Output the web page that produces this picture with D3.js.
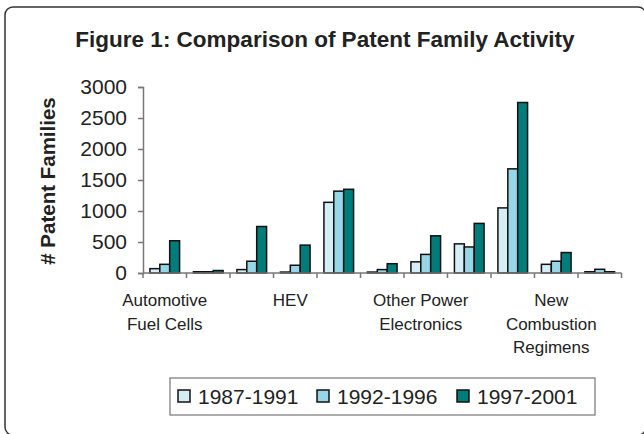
<!DOCTYPE html>
<html>
<head>
<meta charset="utf-8">
<script src="https://cdn.jsdelivr.net/npm/d3@7"></script>
<style>
  body { margin: 0; background: #fff; }
  text { font-family: "Liberation Sans", Arial, sans-serif; fill: #222; }
</style>
</head>
<body>
<script>
const width = 644, height = 434;

// 11 category groups, only every third one is labelled on the axis
const categories = ["c0", "c1", "c2", "c3", "c4", "c5", "c6", "c7", "c8", "c9", "c10"];
const tickLabels = [
  ["Automotive", "Fuel Cells"], [], [],
  ["HEV"], [], [],
  ["Other Power", "Electronics"], [], [],
  ["New", "Combustion", "Regimens"], []
];
const series = ["1987-1991", "1992-1996", "1997-2001"];
const values1987 = [70, 20, 55, 15, 1140, 15, 180, 470, 1050, 140, 20];
const values1992 = [140, 20, 190, 125, 1320, 55, 300, 420, 1680, 190, 60];
const values1997 = [520, 40, 750, 450, 1350, 150, 600, 800, 2750, 330, 20];
const yTicks = [0, 500, 1000, 1500, 2000, 2500, 3000];
const colors = ["#d5eef5", "#97d6e6", "#007d7b"];

const valuesBySeries = [values1987, values1992, values1997];

const svg = d3.select("body").append("svg")
  .attr("width", width)
  .attr("height", height);

// outer frame
svg.append("rect")
  .attr("x", 5).attr("y", 7)
  .attr("width", 641).attr("height", 428)
  .attr("rx", 8)
  .attr("fill", "none")
  .attr("stroke", "#333")
  .attr("stroke-width", 1.5);

svg.append("text")
  .attr("x", 325).attr("y", 47)
  .attr("text-anchor", "middle")
  .style("font-size", "22.5px")
  .style("font-weight", "bold")
  .text("Figure 1: Comparison of Patent Family Activity");

const x0 = d3.scaleBand()
  .domain(categories)
  .range([143, 621.5]);

const x1 = d3.scaleBand()
  .domain(series)
  .range([0, x0.bandwidth()])
  .paddingOuter(0.7);

const y = d3.scaleLinear()
  .domain([0, 3000])
  .range([273, 87]);

// y axis
const yAxis = svg.append("g")
  .attr("transform", "translate(143,0)")
  .call(d3.axisLeft(y).tickValues(yTicks).tickFormat(d3.format("d")).tickSize(5).tickPadding(11));
yAxis.select(".domain").attr("stroke", "#777").attr("stroke-width", 1.5);
yAxis.selectAll(".tick line").attr("stroke", "#777").attr("stroke-width", 1.5);
yAxis.selectAll(".tick text")
  .style("font-size", "21px")
  .style("font-family", "'Liberation Sans', Arial, sans-serif")
  .attr("fill", "#222");

svg.append("text")
  .attr("transform", "translate(55,181) rotate(-90)")
  .attr("text-anchor", "middle")
  .style("font-size", "20.5px")
  .style("font-weight", "bold")
  .text("# Patent Families");

// bars
const groups = svg.append("g")
  .selectAll("g")
  .data(categories)
  .join("g")
  .attr("transform", d => `translate(${x0(d)},0)`);

groups.selectAll("rect")
  .data((d, i) => series.map((s, j) => ({ s, j, v: valuesBySeries[j][i] })))
  .join("rect")
  .attr("x", d => x1(d.s))
  .attr("y", d => y(d.v))
  .attr("width", x1.bandwidth())
  .attr("height", d => y(0) - y(d.v))
  .attr("fill", d => colors[d.j])
  .attr("stroke", "#111")
  .attr("stroke-width", 1.5);

// x axis line and boundary ticks
const xAxis = svg.append("g");
xAxis.append("line")
  .attr("x1", x0.range()[0]).attr("x2", x0.range()[1])
  .attr("y1", y(0)).attr("y2", y(0))
  .attr("stroke", "#777").attr("stroke-width", 1.5);

const boundaries = categories.map(c => x0(c)).concat([x0.range()[1]]);
xAxis.selectAll(".bt")
  .data(boundaries)
  .join("line")
  .attr("class", "bt")
  .attr("x1", d => d).attr("x2", d => d)
  .attr("y1", y(0)).attr("y2", y(0) + 5)
  .attr("stroke", "#777").attr("stroke-width", 1.5);

const labels = xAxis.selectAll(".xl")
  .data(categories)
  .join("text")
  .attr("class", "xl")
  .attr("text-anchor", "middle")
  .style("font-size", "17px");

labels.each(function (d, i) {
  const t = d3.select(this);
  tickLabels[i].forEach((line, k) => {
    t.append("tspan")
      .attr("x", x0(d) + x0.bandwidth() / 2 - (i === 0 ? 0 : 5))
      .attr("y", 306 + k * 23.5)
      .text(line);
  });
});

// legend
const legend = svg.append("g");
legend.append("rect")
  .attr("x", 170).attr("y", 378)
  .attr("width", 425).attr("height", 37)
  .attr("fill", "#fff")
  .attr("stroke", "#777")
  .attr("stroke-width", 1.2);

const legendX = [178, 317, 457];
series.forEach((s, i) => {
  legend.append("rect")
    .attr("x", legendX[i]).attr("y", 390)
    .attr("width", 12).attr("height", 12)
    .attr("fill", colors[i])
    .attr("stroke", "#111")
    .attr("stroke-width", 1.5);
  legend.append("text")
    .attr("x", legendX[i] + 20).attr("y", 404)
    .style("font-size", "21px")
    .text(s);
});
</script>
</body>
</html>
